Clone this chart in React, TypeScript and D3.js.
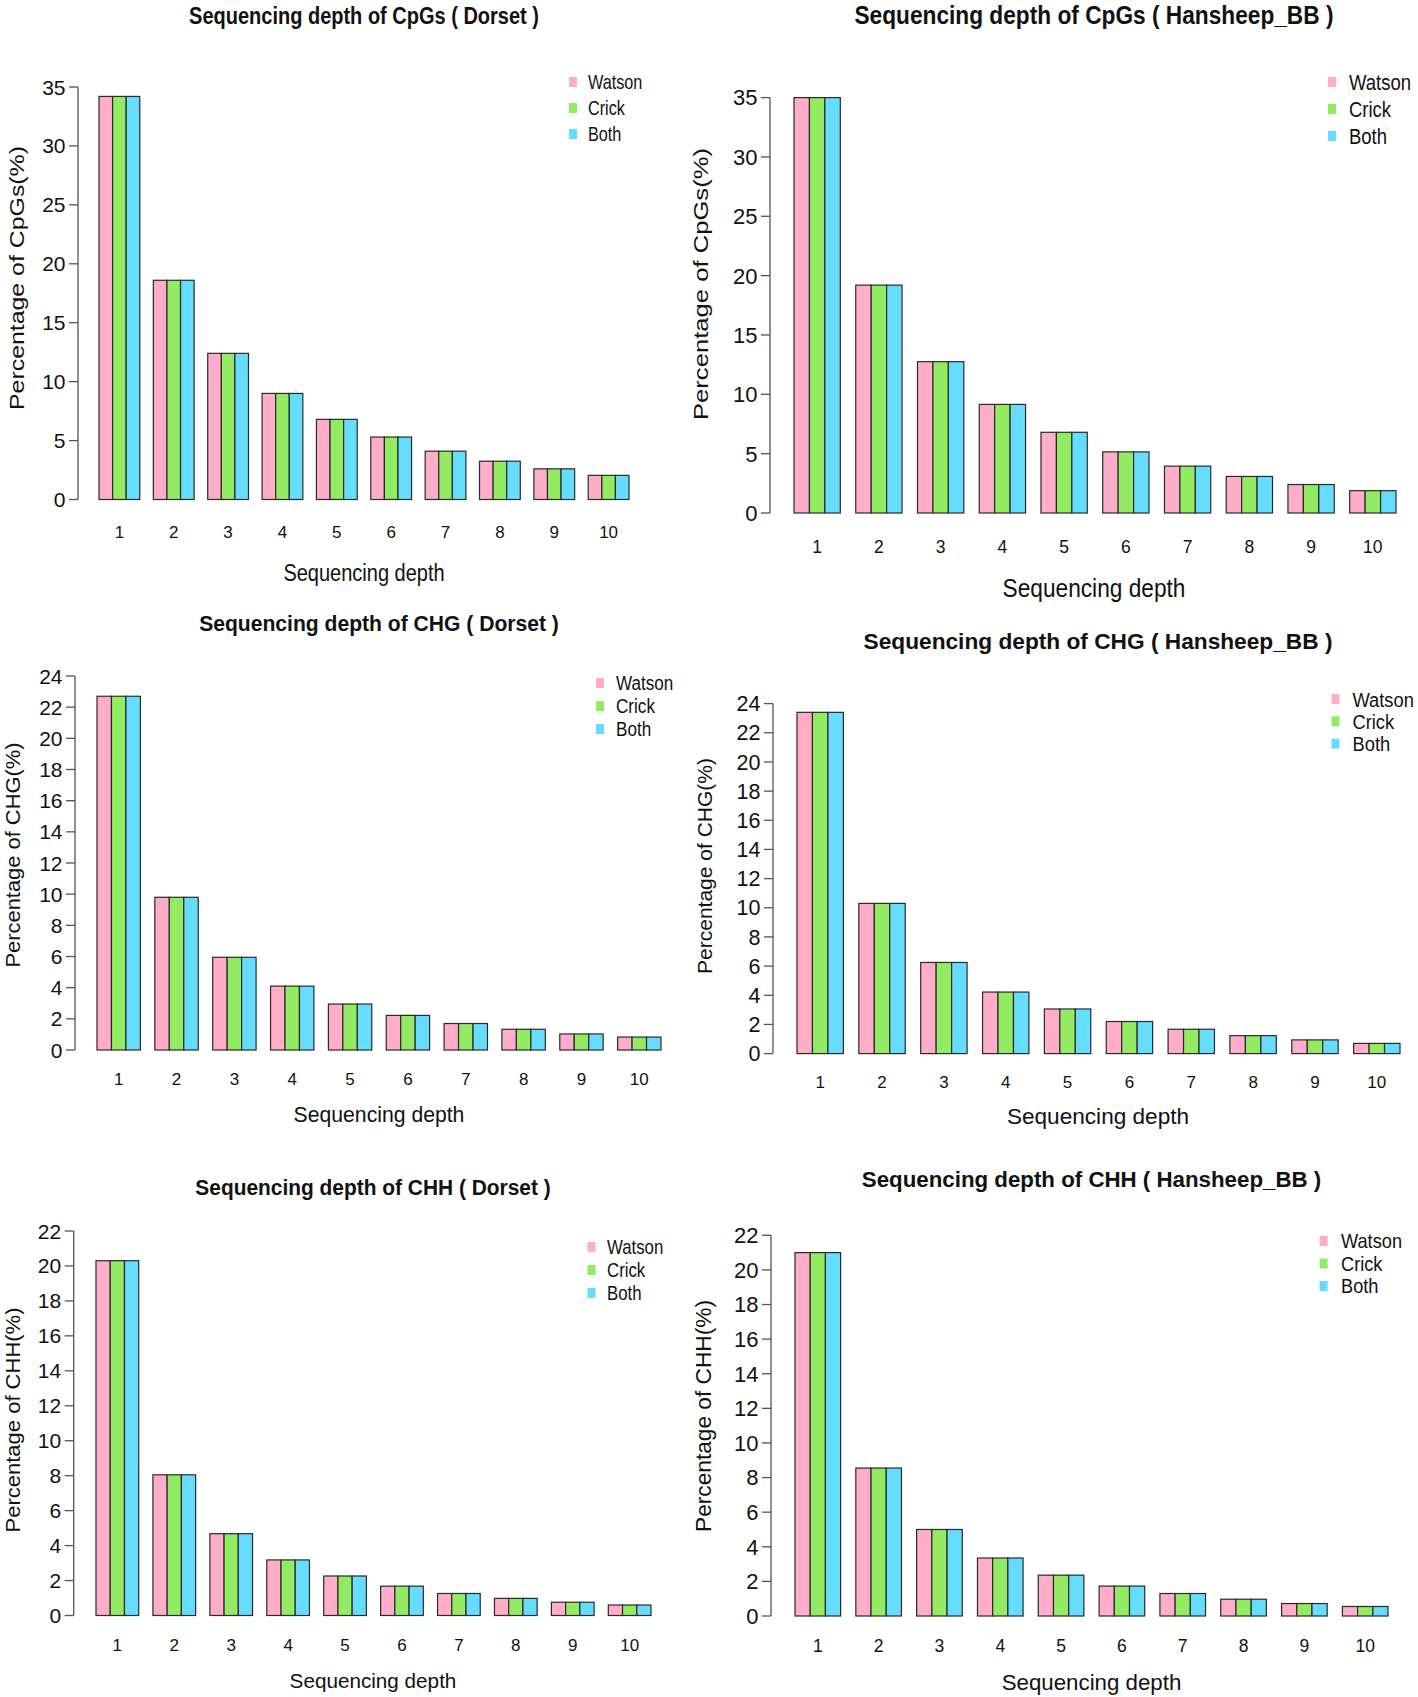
import React from "react";
import * as d3 from "d3";

// ---------- data ----------
const depths = ["1", "2", "3", "4", "5", "6", "7", "8", "9", "10"];
const strands = ["Watson", "Crick", "Both"];
const strandColors = ["#FFADC9", "#93EA63", "#66DDFF"];

// percentage per sequencing depth (Watson, Crick and Both strands share the same value)
const cpgDorset = [34.2, 18.6, 12.4, 9.0, 6.8, 5.3, 4.1, 3.25, 2.6, 2.05];
const cpgHansheep = [35.0, 19.2, 12.75, 9.15, 6.8, 5.15, 3.95, 3.08, 2.4, 1.88];
const chgDorset = [22.7, 9.8, 5.95, 4.1, 2.95, 2.22, 1.7, 1.33, 1.03, 0.83];
const chgHansheep = [23.4, 10.3, 6.25, 4.22, 3.06, 2.2, 1.67, 1.23, 0.94, 0.7];
const chhDorset = [20.3, 8.05, 4.68, 3.18, 2.26, 1.68, 1.26, 0.98, 0.76, 0.6];
const chhHansheep = [21.0, 8.55, 5.0, 3.35, 2.36, 1.73, 1.3, 0.97, 0.72, 0.55];

const cpgTicks = [0, 5, 10, 15, 20, 25, 30, 35];
const chgTicks = [0, 2, 4, 6, 8, 10, 12, 14, 16, 18, 20, 22, 24];
const chhTicks = [0, 2, 4, 6, 8, 10, 12, 14, 16, 18, 20, 22];

const xAxisTitle = "Sequencing depth";

// ---------- layout ----------
const panels = [
  {
    title: "Sequencing depth of CpGs ( Dorset )", yTitle: "Percentage of CpGs(%)",
    values: cpgDorset, ticks: cpgTicks,
    axisX: 78, yZero: 499.5, yTop: 87, xStart: 99, xEnd: 629,
    titleX: 364, titleY: 15.5, xTitleY: 572, catY: 532,
    yLabX: 24, yLabY: 278, yLabLen: 264, yLabS: 20,
    titleS: 20, xTitleS: 20, sy: 1.22,
    legSqX: 573, legTx: 588, legY: 82, legDy: 26, legS: 16.2, legSy: 1.23,
    tickS: 21, catS: 17,
  },
  {
    title: "Sequencing depth of CpGs ( Hansheep_BB )", yTitle: "Percentage of CpGs(%)",
    values: cpgHansheep, ticks: cpgTicks,
    axisX: 770, yZero: 513, yTop: 97.6, xStart: 794, xEnd: 1396,
    titleX: 1094, titleY: 14.5, xTitleY: 588, catY: 547,
    yLabX: 708, yLabY: 284, yLabLen: 272, yLabS: 21,
    titleS: 22.7, xTitleS: 22.7, sy: 1.11,
    legSqX: 1332, legTx: 1349, legY: 82, legDy: 27, legS: 18.5, legSy: 1.2,
    tickS: 22, catS: 17.5,
  },
  {
    title: "Sequencing depth of CHG ( Dorset )", yTitle: "Percentage of CHG(%)",
    values: chgDorset, ticks: chgTicks,
    axisX: 75, yZero: 1050, yTop: 676, xStart: 97, xEnd: 661,
    titleX: 379, titleY: 623.5, xTitleY: 1114, catY: 1079,
    yLabX: 20, yLabY: 855, yLabLen: 225, yLabS: 20.5,
    titleS: 21.1, xTitleS: 21.2, sy: 1.04,
    legSqX: 600, legTx: 616, legY: 683, legDy: 23, legS: 17.1, legSy: 1.17,
    tickS: 21, catS: 17,
  },
  {
    title: "Sequencing depth of CHG ( Hansheep_BB )", yTitle: "Percentage of CHG(%)",
    values: chgHansheep, ticks: chgTicks,
    axisX: 773, yZero: 1053.6, yTop: 703.6, xStart: 797, xEnd: 1400,
    titleX: 1098, titleY: 641, xTitleY: 1116, catY: 1082,
    yLabX: 712, yLabY: 866, yLabLen: 216, yLabS: 21,
    titleS: 22.7, xTitleS: 22.6, sy: 1.0,
    legSqX: 1335.5, legTx: 1352.5, legY: 699, legDy: 22.3, legS: 18.3, legSy: 1.15,
    tickS: 21.5, catS: 17,
  },
  {
    title: "Sequencing depth of CHH ( Dorset )", yTitle: "Percentage of CHH(%)",
    values: chhDorset, ticks: chhTicks,
    axisX: 73.7, yZero: 1615.5, yTop: 1231, xStart: 96, xEnd: 651,
    titleX: 373, titleY: 1187, xTitleY: 1680.5, catY: 1645,
    yLabX: 20, yLabY: 1420, yLabLen: 225, yLabS: 20.5,
    titleS: 20.9, xTitleS: 20.7, sy: 1.02,
    legSqX: 591.5, legTx: 607, legY: 1247, legDy: 23, legS: 16.8, legSy: 1.15,
    tickS: 21, catS: 17,
  },
  {
    title: "Sequencing depth of CHH ( Hansheep_BB )", yTitle: "Percentage of CHH(%)",
    values: chhHansheep, ticks: chhTicks,
    axisX: 771, yZero: 1616, yTop: 1235.3, xStart: 795, xEnd: 1388,
    titleX: 1091.5, titleY: 1179, xTitleY: 1682, catY: 1646,
    yLabX: 711, yLabY: 1416, yLabLen: 232, yLabS: 21.5,
    titleS: 22.3, xTitleS: 22.3, sy: 1.03,
    legSqX: 1323.6, legTx: 1341, legY: 1241, legDy: 22.5, legS: 18.2, legSy: 1.15,
    tickS: 22, catS: 17.5,
  },
];

const FONT = "'Liberation Sans', Arial, Helvetica, sans-serif";

function SText({ x, cy, size, sy = 1, anchor = "middle", weight = "normal", children }: any) {
  const baseline = cy + 0.358 * size * sy;
  return (
    <text
      transform={`translate(${x},${baseline}) scale(1,${sy})`}
      fontSize={size}
      fontWeight={weight}
      textAnchor={anchor}
      fontFamily={FONT}
      fill="#111"
    >
      {children}
    </text>
  );
}

function Panel({ p }: any) {
  const yMax = p.ticks[p.ticks.length - 1];
  const y = d3.scaleLinear().domain([0, yMax]).range([p.yZero, p.yTop]);
  const x0 = d3.scaleBand().domain(depths).range([p.xStart, p.xEnd]).paddingInner(0.25).paddingOuter(0);
  const x1 = d3.scaleBand().domain(strands).range([0, x0.bandwidth()]).padding(0);
  const tickLen = 9;

  return (
    <g>
      {/* bars */}
      {depths.map((d, i) => (
        <g key={d} transform={`translate(${x0(d)},0)`}>
          {strands.map((s, j) => (
            <rect
              key={s}
              x={x1(s)}
              y={y(p.values[i])}
              width={x1.bandwidth()}
              height={y(0) - y(p.values[i])}
              fill={strandColors[j]}
              stroke="#2a2a2a"
              strokeWidth={1.2}
            />
          ))}
        </g>
      ))}
      {/* y axis */}
      <line x1={p.axisX} x2={p.axisX} y1={y(0)} y2={y(yMax)} stroke="#555" strokeWidth={1.3} />
      {p.ticks.map((t: number) => (
        <g key={t}>
          <line x1={p.axisX - tickLen} x2={p.axisX} y1={y(t)} y2={y(t)} stroke="#555" strokeWidth={1.3} />
          <SText x={p.axisX - 12.5} cy={y(t)} size={p.tickS} anchor="end">
            {String(t)}
          </SText>
        </g>
      ))}
      {/* category labels */}
      {depths.map((d) => (
        <SText key={d} x={(x0(d) as number) + x0.bandwidth() / 2} cy={p.catY} size={p.catS}>
          {d}
        </SText>
      ))}
      {/* titles */}
      <SText x={p.titleX} cy={p.titleY} size={p.titleS} sy={p.sy} weight="bold">
        {p.title}
      </SText>
      <SText x={p.titleX} cy={p.xTitleY} size={p.xTitleS} sy={p.sy}>
        {xAxisTitle}
      </SText>
      <text
        transform={`translate(${p.yLabX},${p.yLabY}) rotate(-90)`}
        fontSize={p.yLabS}
        fontFamily={FONT}
        textAnchor="middle"
        textLength={p.yLabLen}
        lengthAdjust="spacingAndGlyphs"
        fill="#111"
      >
        {p.yTitle}
      </text>
      {/* legend */}
      {strands.map((s, j) => {
        const cy = p.legY + j * p.legDy;
        return (
          <g key={s}>
            <rect x={p.legSqX - 4} y={cy - 5} width={8} height={10} fill={strandColors[j]} />
            <SText x={p.legTx} cy={cy} size={p.legS} sy={p.legSy} anchor="start">
              {s}
            </SText>
          </g>
        );
      })}
    </g>
  );
}

export default function App() {
  return (
    <svg
      width={1418}
      height={1697}
      viewBox="0 0 1418 1697"
      style={{ position: "absolute", left: 0, top: 0, background: "#fff" }}
    >
      <rect x={0} y={0} width={1418} height={1697} fill="#fff" />
      {panels.map((p, i) => (
        <Panel key={i} p={p} />
      ))}
    </svg>
  );
}
